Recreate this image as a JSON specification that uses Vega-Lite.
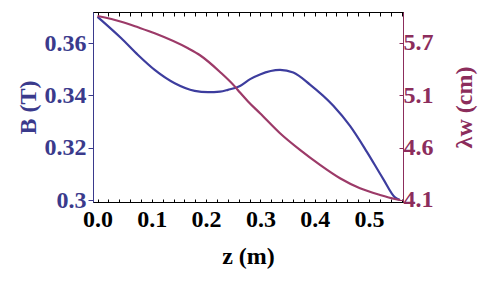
{
  "$schema": "https://vega.github.io/schema/vega-lite/v6.json",
  "autosize": {"type": "none"},
  "padding": {"left": 93, "top": 12, "right": 88, "bottom": 82},
  "width": 310,
  "height": 190,
  "background": "white",
  "config": {
    "view": {"stroke": "black", "strokeWidth": 1},
    "axis": {"labelFont": "Liberation Serif", "titleFont": "Liberation Serif", "labelFontWeight": "bold", "titleFontWeight": "bold", "labelFontSize": 24, "titleFontSize": 24, "grid": false}
  },
  "datasets": {
    "B": [
      {"z": 0.0, "v": 0.3700},
      {"z": 0.0438, "v": 0.3618},
      {"z": 0.0746, "v": 0.3554},
      {"z": 0.1053, "v": 0.3497},
      {"z": 0.1422, "v": 0.3446},
      {"z": 0.179, "v": 0.3417},
      {"z": 0.2035, "v": 0.3412},
      {"z": 0.2256, "v": 0.3414},
      {"z": 0.2403, "v": 0.3421},
      {"z": 0.2624, "v": 0.3436},
      {"z": 0.2811, "v": 0.3462},
      {"z": 0.2993, "v": 0.3480},
      {"z": 0.3361, "v": 0.3497},
      {"z": 0.3606, "v": 0.3487},
      {"z": 0.3913, "v": 0.3441},
      {"z": 0.4343, "v": 0.3360},
      {"z": 0.465, "v": 0.3283},
      {"z": 0.4958, "v": 0.3185},
      {"z": 0.5263, "v": 0.3080},
      {"z": 0.5479, "v": 0.3010},
      {"z": 0.5571, "v": 0.3000}
    ],
    "L": [
      {"z": 0.0, "v": 5.975},
      {"z": 0.0438, "v": 5.917},
      {"z": 0.0746, "v": 5.86},
      {"z": 0.1053, "v": 5.799},
      {"z": 0.1667, "v": 5.646},
      {"z": 0.1888, "v": 5.575},
      {"z": 0.2256, "v": 5.405},
      {"z": 0.2527, "v": 5.258},
      {"z": 0.2624, "v": 5.195},
      {"z": 0.2772, "v": 5.105},
      {"z": 0.2993, "v": 4.984},
      {"z": 0.3361, "v": 4.78},
      {"z": 0.3729, "v": 4.61},
      {"z": 0.4098, "v": 4.457},
      {"z": 0.4466, "v": 4.321},
      {"z": 0.4834, "v": 4.219},
      {"z": 0.5203, "v": 4.151},
      {"z": 0.5479, "v": 4.11},
      {"z": 0.5571, "v": 4.1}
    ]
  },
  "layer": [
    {
      "data": {"name": "B"},
      "mark": {"type": "line", "color": "#3d3d9e", "strokeWidth": 2.2, "interpolate": "monotone"},
      "encoding": {
        "x": {"field": "z", "type": "quantitative", "scale": {"domain": [-0.0083, 0.5626], "nice": false, "zero": false},
          "axis": {"orient": "bottom", "title": "z (m)", "titleColor": "black", "labelColor": "black", "domainColor": "black", "tickColor": "black",
            "values": [0,0.02,0.04,0.06,0.08,0.1,0.12,0.14,0.16,0.18,0.2,0.22,0.24,0.26,0.28,0.3,0.32,0.34,0.36,0.38,0.4,0.42,0.44,0.46,0.48,0.5,0.52,0.54,0.56],
            "labelExpr": "abs(datum.value*10 - round(datum.value*10)) < 0.001 ? format(datum.value, '.1f') : ''",
            "tickSize": -3, "labelPadding": 8, "titlePadding": 13, "labelFlush": false}},
        "y": {"field": "v", "type": "quantitative", "scale": {"domain": [0.29924, 0.37185], "nice": false, "zero": false},
          "axis": {"orient": "left", "title": "B (T)", "titleColor": "#3a3a8c", "labelColor": "#3a3a8c", "domainColor": "#3a3a8c", "tickColor": "#3a3a8c",
            "values": [0.3, 0.32, 0.34, 0.36], "format": ".2~f", "tickSize": 5, "labelPadding": 2, "titlePadding": 4}}
      }
    },
    {
      "data": {"name": "L"},
      "mark": {"type": "line", "color": "#9c3a68", "strokeWidth": 2.2, "interpolate": "monotone"},
      "encoding": {
        "x": {"field": "z", "type": "quantitative",
          "axis": {"orient": "top", "title": null, "labels": false, "domainColor": "black", "tickColor": "black",
            "values": [0,0.02,0.04,0.06,0.08,0.1,0.12,0.14,0.16,0.18,0.2,0.22,0.24,0.26,0.28,0.3,0.32,0.34,0.36,0.38,0.4,0.42,0.44,0.46,0.48,0.5,0.52,0.54,0.56],
            "tickSize": -4}},
        "y": {"field": "v", "type": "quantitative", "scale": {"domain": [4.0796, 6.0159], "nice": false, "zero": false},
          "axis": {"orient": "right", "title": "λw (cm)", "titleAngle": 270, "titleX": 61, "titleY": 95, "titleAlign": "center", "titleBaseline": "middle",
            "titleColor": "#8c2d5c", "labelColor": "#8c2d5c", "domainColor": "#8c2d5c", "tickColor": "#8c2d5c",
            "values": [4.1, 4.63333, 5.16667, 5.7],
            "labelExpr": "datum.value < 4.3 ? '4.1' : datum.value < 4.9 ? '4.6' : datum.value < 5.4 ? '5.1' : '5.7'",
            "tickSize": -4, "labelPadding": 4}}
      }
    }
  ],
  "resolve": {"scale": {"y": "independent"}, "axis": {"x": "independent", "y": "independent"}}
}
